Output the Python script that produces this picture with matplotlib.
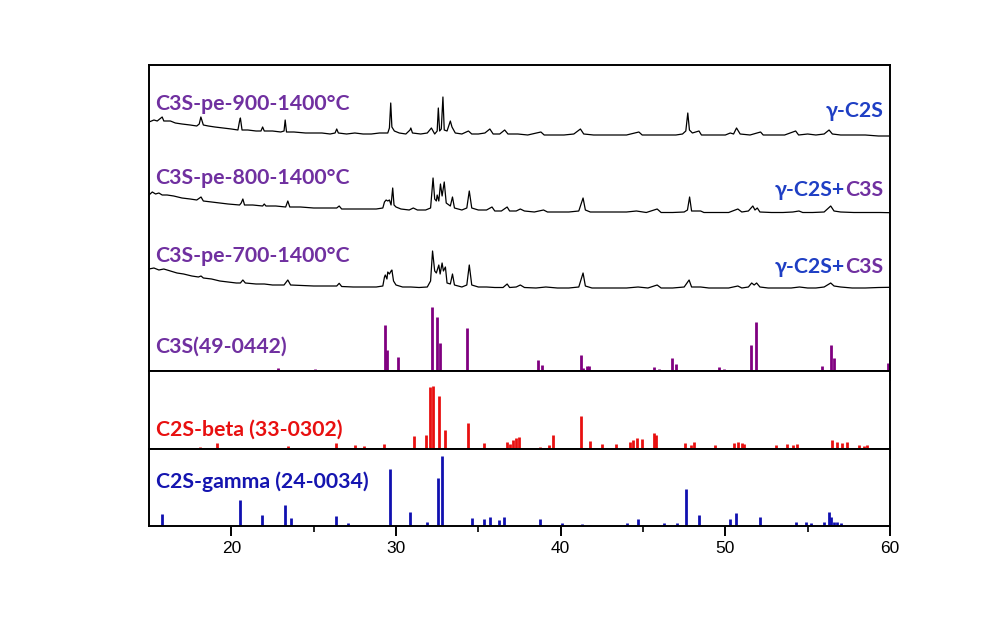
import matplotlib
matplotlib.use('Agg')
import matplotlib.pyplot as plt

# XRD scans (2-theta, intensity in arbitrary units, already offset)
scan_900 = [(15.0,249),(15.3,251),(15.5,250),(15.8,254),(15.9,250),(16.3,250),(16.6,248),(17.0,247),(17.5,246),(17.9,245),
            (18.05,247),(18.15,254),(18.3,246),(18.6,245),(19.0,244),(19.5,243),(20.0,242),(20.4,241),(20.5,250),(20.55,253),
            (20.65,241),(21.0,241),(21.5,240),(21.8,240),(21.9,244),(22.0,240),(22.5,240),(23.0,239),(23.2,240),(23.27,251),
            (23.35,239),(23.8,239),(24.5,238),(25.0,238),(25.5,238),(26.0,237),(26.3,238),(26.4,242),(26.5,238),(27.0,237),
            (27.5,238),(28.0,237),(28.5,237),(29.0,238),(29.5,238),(29.6,243),(29.68,268),(29.75,244),(29.9,240),(30.2,238),
            (30.6,237),(30.85,241),(30.9,243),(31.0,238),(31.5,237),(31.9,238),(32.15,243),(32.35,237),(32.5,240),(32.57,263),
            (32.65,240),(32.75,242),(32.85,274),(32.93,241),(33.1,240),(33.3,250),(33.4,244),(33.6,238),(34.0,237),(34.4,240),
            (34.6,237),(35.0,237),(35.4,238),(35.7,242),(35.9,237),(36.3,237),(36.6,241),(36.8,237),(37.4,237),(38.0,236),
            (38.8,239),(39.0,236),(39.5,236),(40.2,236),(40.8,237),(41.2,242),(41.4,237),(42.0,236),(42.6,236),(43.3,236),
            (44.0,236),(44.75,239),(44.95,236),(45.5,236),(46.0,236),(46.5,236),(47.0,236),(47.4,237),(47.6,240),(47.72,258),
            (47.82,241),(48.0,238),(48.4,240),(48.55,236),(49.0,236),(49.5,236),(50.0,236),(50.3,238),(50.5,237),(50.68,243),
            (50.9,237),(51.5,236),(52.14,239),(52.3,236),(53.0,236),(53.6,236),(54.27,240),(54.45,236),(55.0,237),(55.5,236),
            (56.0,237),(56.3,241),(56.5,237),(57.0,236),(57.7,236),(58.5,236),(59.3,235),(60.0,235)]

scan_800 = [(15.0,176),(15.2,179),(15.4,177),(15.6,178),(15.8,176),(16.1,176),(16.5,175),(17.0,173),(17.5,172),(17.9,171),
            (18.16,174),(18.3,170),(18.8,169),(19.3,168),(19.8,167),(20.5,166),(20.6,168),(20.7,172),(20.8,166),(21.3,166),
            (21.9,165),(22.0,167),(22.1,165),(22.7,165),(23.3,164),(23.43,170),(23.55,164),(24.2,164),(25.0,163),(25.8,163),
            (26.4,163),(26.55,165),(26.7,162),(27.4,162),(28.1,162),(28.8,162),(29.2,163),(29.3,169),(29.4,171),(29.5,170),
            (29.6,171),(29.7,166),(29.8,183),(29.88,166),(30.0,164),(30.3,162),(30.8,161),(31.05,163),(31.3,161),(31.8,161),
            (32.1,163),(32.25,193),(32.35,172),(32.45,170),(32.5,176),(32.6,170),(32.7,187),(32.8,175),(32.93,189),(33.05,168),
            (33.3,165),(33.43,174),(33.55,163),(34.0,161),(34.3,163),(34.45,180),(34.6,163),(35.0,161),(35.5,161),(35.83,164),
            (36.0,160),(36.4,160),(36.75,164),(36.9,160),(37.3,160),(37.55,162),(37.8,160),(38.4,159),(38.96,161),(39.2,159),
            (39.8,159),(40.5,159),(41.1,160),(41.36,173),(41.5,161),(41.8,159),(42.5,159),(43.3,159),(44.0,159),(44.6,160),
            (45.2,158.5),(45.86,162),(46.1,158.5),(46.8,158.5),(47.5,159),(47.7,161),(47.83,174),(47.95,160),(48.5,160),
            (48.7,158.5),(49.5,158.5),(50.2,158.5),(50.76,162),(51.0,159),(51.4,160),(51.67,165),(51.8,161),(51.94,163),
            (52.1,159),(52.8,158.5),(53.5,158.5),(54.1,159),(54.47,160),(54.7,158.5),(55.3,158.5),(56.0,159),(56.4,165),
            (56.6,160),(57.0,159),(57.8,158.5),(58.6,158.5),(59.4,158.5),(60.0,158.3)]

scan_700 = [(15.0,102),(15.3,103),(15.6,101),(15.9,102),(16.3,100),(16.7,98),(17.1,97),(17.6,95),(18.0,94),(18.16,95),
            (18.3,93),(18.8,92),(19.3,90),(19.8,89),(20.3,88),(20.55,88),(20.7,91),(20.85,88),(21.5,87),(22.0,87),(22.5,86),
            (23.2,86),(23.43,91),(23.6,86),(24.3,85.5),(25.0,85),(25.7,85),(26.4,85),(26.55,87.7),(26.7,84.5),(27.4,84),
            (28.1,84),(28.8,84),(29.2,85),(29.3,94),(29.35,96),(29.45,92),(29.5,99),(29.6,97),(29.7,100),(29.75,101),
            (29.85,90),(30.0,86),(30.4,84),(30.9,84),(31.4,83.5),(31.9,84),(32.1,90),(32.22,120),(32.35,100),(32.45,98),
            (32.6,106),(32.68,97),(32.8,108),(32.88,100),(33.0,104),(33.1,88),(33.3,87),(33.43,97),(33.55,86),(34.0,84),
            (34.3,86),(34.45,106),(34.6,86),(35.0,84),(35.5,84),(36.0,83.5),(36.5,83.5),(36.75,87),(36.9,83.5),(37.3,84),
            (37.55,86),(37.8,83.5),(38.5,83),(39.1,84),(39.8,83),(40.5,83),(41.1,84),(41.36,98),(41.5,85),(41.9,83),
            (42.6,83),(43.3,83),(44.0,83),(44.7,84),(45.3,83),(45.86,86),(46.1,83),(46.8,83),(47.5,84),(47.8,91),(47.95,84),
            (48.5,84),(49.0,83),(49.6,83),(50.2,83),(50.76,85),(51.0,83),(51.4,84),(51.6,88),(51.75,86),(51.9,88),(52.1,84),
            (52.6,83),(53.3,83),(54.0,83),(54.5,84),(55.0,83),(55.5,83),(56.0,84),(56.4,88),(56.6,85),(57.0,84),(57.7,83),
            (58.5,83),(59.3,83.5),(60.0,83.7)]

# reference cards (2-theta, relative height)
c3s_pos = [22.86, 25.1, 29.35, 29.45, 30.1, 32.2, 32.5, 32.68, 33.3, 34.31, 38.63, 38.87, 41.26, 41.36, 41.6, 41.7,
           43.13, 45.66, 45.96, 46.79, 47.02, 49.6, 49.9, 51.58, 51.84, 55.89, 56.4, 56.6, 59.9, 59.97]
c3s_int = [2.7, 2.3, 46.5, 21.5, 14, 64, 54.5, 28, 1, 43, 10.7, 5.7, 15.7, 3.3, 5, 5,
           1, 4.3, 2.3, 12.7, 6.7, 4, 2.3, 25.7, 49.3, 5, 26, 12.7, 8, 12.3]

beta_pos = [18.1, 19.1, 23.43, 26.36, 27.52, 28.03, 29.3, 31.1, 31.82, 32.08, 32.22, 32.63, 32.99, 34.39, 35.32,
            36.74, 36.9, 37.1, 37.3, 37.45, 38.77, 39.27, 39.54, 41.26, 41.77, 42.52, 43.33, 44.2, 44.4, 44.65, 44.94,
            45.66, 45.76, 47.58, 47.9, 48.09, 49.4, 50.52, 50.75, 51.0, 51.13, 53.05, 53.77, 54.1, 54.37, 56.5, 56.8,
            57.1, 57.41, 58.12, 58.4, 58.63]
beta_int = [2.3, 5.7, 3, 5.7, 4, 3, 5.5, 12.7, 13.7, 62.5, 63.5, 52.7, 18.7, 26.3, 6.3,
            7.3, 5, 9, 10.7, 11.7, 2.3, 4, 14, 33, 8, 5, 5, 7.3, 9, 10.7, 10,
            15.7, 14, 5.7, 4, 7.3, 4, 5.7, 7.3, 5.7, 5, 4, 5, 4, 5, 9, 7.3,
            6, 7.3, 4, 3, 4]

gamma_pos = [15.77, 20.53, 21.89, 23.27, 23.63, 26.35, 27.08, 29.65, 30.87, 31.88, 32.55, 32.79, 34.62, 35.32, 35.69,
             36.24, 36.58, 38.73, 40.09, 41.3, 41.81, 44.0, 44.71, 46.27, 47.04, 47.63, 48.4, 50.28, 50.62, 52.1, 54.27,
             54.88, 55.18, 55.99, 56.3, 56.44, 56.6, 56.8, 57.0]
gamma_int = [12, 26, 11, 21, 7.7, 10, 3.3, 56.7, 14, 4.3, 47.7, 70, 7.7, 6.7, 9.3,
             6, 8.7, 6.7, 3.3, 2, 1.5, 2.7, 6.7, 3.3, 2.7, 36.7, 11, 7, 13.3, 9.3, 4.3,
             4.3, 2.7, 4.3, 13.7, 8.7, 4.3, 4.3, 3]

scan_labels = ['C3S-pe-900-1400°C', 'C3S-pe-800-1400°C', 'C3S-pe-700-1400°C']
phase_labels = ['γ-C2S', 'γ-C2S+C3S', 'γ-C2S+C3S']

purple = '#7030a0'
blue = '#1f3fc4'
lab_font = dict(family='Lato', fontweight='bold', fontsize=15.3)

fig = plt.figure(figsize=(9.91, 6.42), dpi=100)
W, H = 991.0, 642.0
left, right = 149 / W, 890 / W
ax1 = fig.add_axes([left, 1 - 371 / H, right - left, (371 - 65) / H])
ax2 = fig.add_axes([left, 1 - 449 / H, right - left, (449 - 371) / H])
ax3 = fig.add_axes([left, 1 - 526 / H, right - left, (526 - 449) / H])

for ax in (ax1, ax2, ax3):
    ax.set_xlim(15, 60)
    ax.set_xticks([20, 30, 40, 50, 60])
    ax.set_xticks([25, 35, 45, 55], minor=True)
    ax.tick_params(axis='x', which='major', direction='out', length=7.5, width=1.4)
    ax.tick_params(axis='x', which='minor', direction='out', length=4, width=1.2)
    ax.set_yticks([])
    for s in ax.spines.values():
        s.set_linewidth(1.4)
ax1.tick_params(axis='x', labelbottom=False)
ax2.tick_params(axis='x', labelbottom=False)
ax3.tick_params(axis='x', labelsize=12.5)
for t in ax3.get_xticklabels():
    t.set_family('Liberation Sans')

ax1.set_ylim(0, 306)
ax2.set_ylim(0, 78)
ax3.set_ylim(0, 77)

for scan in (scan_900, scan_800, scan_700):
    xs = [p[0] for p in scan]
    ys = [p[1] for p in scan]
    ax1.plot(xs, ys, color='black', lw=0.9)

ax1.vlines(c3s_pos, 0, c3s_int, color='#800080', lw=2)
ax2.vlines(beta_pos, 0, beta_int, color='#e81010', lw=2)
ax3.vlines(gamma_pos, 0, gamma_int, color='#1010b0', lw=2)

# text labels (positions in pixel rows of the top axes)
for lab, yy in zip(scan_labels, [267, 193, 115]):
    ax1.text(15.4, yy, lab, color=purple, va='center', ha='left', **lab_font)
ax1.text(59.6, 260, phase_labels[0], color=blue, va='center', ha='right', **lab_font)
for yy in [181, 104]:
    t = ax1.text(59.6, yy, 'C3S', color=purple, va='center', ha='right', **lab_font)
    ax1.annotate(phase_labels[1][:-3], xycoords=t, xy=(0, 0.5), va='center', ha='right',
                 color=blue, **lab_font)
ax1.text(15.4, 24, 'C3S(49-0442)', color=purple, va='center', ha='left', **lab_font)
ax2.text(15.4, 19, 'C2S-beta (33-0302)', color='#e81010', va='center', ha='left', **lab_font)
ax3.text(15.4, 44, 'C2S-gamma (24-0034)', color='#1515b0', va='center', ha='left', **lab_font)

fig.savefig('out.png', dpi=100)
